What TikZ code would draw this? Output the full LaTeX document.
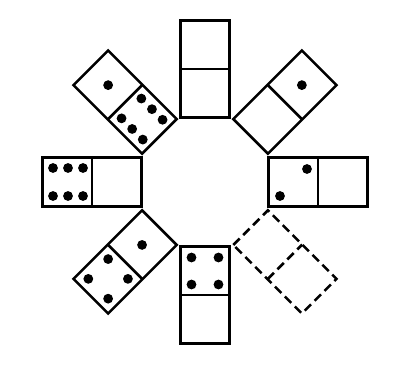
\documentclass[tikz,border=0pt]{standalone}
\begin{document}
\begin{tikzpicture}[x=1pt,y=1pt,
  tile/.style={line width=2.6pt, line join=miter},
  dashtile/.style={line width=2.6pt, dash pattern=on 9pt off 5pt},
  pip/.style={fill=black}]
\useasboundingbox (0,0) rectangle (396,364);
\fill[white] (0,0) rectangle (396,364);
\def\R{113}
\def\pr{4.9}
% top (90)
\begin{scope}[shift={(205,182)}, rotate=90, shift={(\R,0)}]
  \draw[tile] (-48.5,-24.5) rectangle (48.5,24.5); \draw[tile] (0,-24.5) -- (0,24.5);
\end{scope}
% top-right (45): outer 1
\begin{scope}[shift={(205,182)}, rotate=45, shift={(\R,0)}]
  \draw[tile] (-48.5,-24.5) rectangle (48.5,24.5); \draw[tile] (0,-24.5) -- (0,24.5);
  \fill[pip] (24,0) circle (\pr);
\end{scope}
% right (0): inner 2
\begin{scope}[shift={(205,182)}, rotate=0, shift={(\R,0)}]
  \draw[tile] (-49.5,-24.5) rectangle (49.5,24.5); \draw[tile] (0,-24.5) -- (0,24.5);
  \fill[pip] (-11,13) circle (\pr);
  \fill[pip] (-38,-14) circle (\pr);
\end{scope}
% bottom-right (-45): dashed blank
\begin{scope}[shift={(205,182)}, rotate=-45, shift={(\R,0)}]
  \draw[dashtile] (-48.5,-24.5) rectangle (48.5,24.5); \draw[dashtile] (0,-24.5) -- (0,24.5);
\end{scope}
% bottom (-90): inner 4
\begin{scope}[shift={(205,182)}, rotate=-90, shift={(\R,0)}]
  \draw[tile] (-48.5,-24.5) rectangle (48.5,24.5); \draw[tile] (0,-24.5) -- (0,24.5);
  \foreach \a in {-13.5,13.5} \foreach \b in {-13.5,13.5} \fill[pip] (-24+\a,\b) circle (\pr);
\end{scope}
% bottom-left (-135): outer 4, inner 1
\begin{scope}[shift={(205,182)}, rotate=-135, shift={(\R,0)}]
  \draw[tile] (-48.5,-24.5) rectangle (48.5,24.5); \draw[tile] (0,-24.5) -- (0,24.5);
  \foreach \a in {-14,14} \foreach \b in {-14,14} \fill[pip] (24+\a,\b) circle (\pr);
  \fill[pip] (-24,0) circle (\pr);
\end{scope}
% left (180): outer 6
\begin{scope}[shift={(205,182)}, rotate=180, shift={(\R,0)}]
  \draw[tile] (-49.5,-24.5) rectangle (49.5,24.5); \draw[tile] (0,-24.5) -- (0,24.5);
  \foreach \a in {-15,0,15} \foreach \b in {-14,14} \fill[pip] (24+\a,\b) circle (\pr);
\end{scope}
% top-left (135): outer 1, inner 6
\begin{scope}[shift={(205,182)}, rotate=135, shift={(\R,0)}]
  \draw[tile] (-48.5,-24.5) rectangle (48.5,24.5); \draw[tile] (0,-24.5) -- (0,24.5);
  \fill[pip] (24,0) circle (\pr);
  \foreach \a in {-15,0,15} \foreach \b in {-14,14} \fill[pip] (-24+\a,\b) circle (\pr);
\end{scope}
\end{tikzpicture}
\end{document}
